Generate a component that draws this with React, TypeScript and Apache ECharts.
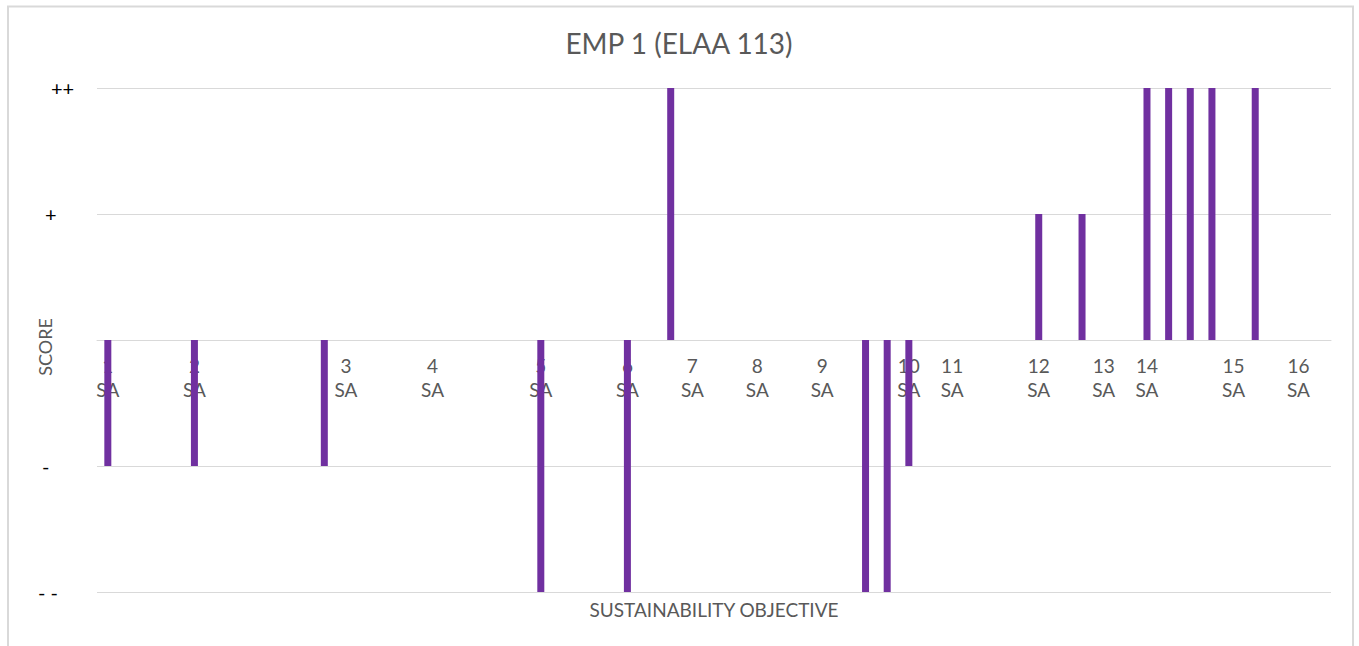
import React, { useEffect, useRef } from "react";
import * as echarts from "echarts";

// 57 category slots along the x axis; blank ones carry no label
const categories: string[] = [
  "1\nSA", "", "", "", "2\nSA", "", "", "", "", "",
  "", "3\nSA", "", "", "", "4\nSA", "", "", "", "",
  "5\nSA", "", "", "", "6\nSA", "", "", "7\nSA", "", "",
  "8\nSA", "", "", "9\nSA", "", "", "", "10\nSA", "", "11\nSA",
  "", "", "", "12\nSA", "", "", "13\nSA", "", "14\nSA", "",
  "", "", "15\nSA", "", "", "16\nSA", "",
];

// score per slot (-2 = "- -", -1 = "-", 1 = "+", 2 = "++")
const scores: (number | null)[] = [
  -1, null, null, null, -1, null, null, null, null, null,
  -1, null, null, null, null, null, null, null, null, null,
  -2, null, null, null, -2, null, 2, null, null, null,
  null, null, null, null, null, -2, -2, -1, null, null,
  null, null, null, 1, null, 1, null, null, 2, 2,
  2, 2, null, 2, null, null, null,
];

const yTickValues: number[] = [-2, -1, 0, 1, 2];
const yTickLabels: string[] = ["- -", "-", "", "+", "++"];
const yTickStyles: string[] = ["mm", "m", "z", "p", "pp"];

const TITLE = "EMP 1 (ELAA 113)";
const Y_NAME = "SCORE";
const X_NAME = "SUSTAINABILITY OBJECTIVE";

export default function App() {
  const ref = useRef<HTMLDivElement>(null);
  useEffect(() => {
    if (!ref.current) return;
    const chart = echarts.init(ref.current, undefined, { renderer: "svg" });
    const font = "Lato, 'Open Sans', sans-serif";
    const yl = { color: "#000", fontSize: 20, fontFamily: font };
    const gridTop = 88;
    const gridBottom = 54;
    const plotH = 646 - gridTop - gridBottom;
    chart.setOption({
      animation: false,
      backgroundColor: "#ffffff",
      textStyle: { fontFamily: font },
      title: {
        text: TITLE,
        left: 674,
        textAlign: "center",
        top: 24,
        textStyle: { fontFamily: font, fontSize: 28, fontWeight: "normal", color: "#595959" },
      },
      grid: {
        left: 97,
        right: 28,
        top: gridTop,
        bottom: gridBottom,
        containLabel: false,
        outerBoundsMode: "none",
      },
      xAxis: {
        type: "category",
        position: "bottom",
        offset: -plotH / 2,
        data: categories.map((_, i) => String(i)),
        boundaryGap: true,
        axisLine: { show: true, onZero: false, lineStyle: { color: "#d9d9d9", width: 1 } },
        axisTick: { show: false },
        splitLine: { show: false },
        axisLabel: {
          interval: 0,
          margin: 13,
          color: "#595959",
          fontSize: 19,
          lineHeight: 24,
          fontFamily: font,
          formatter: (_v: string, i: number) => categories[i],
        },
      },
      yAxis: {
        type: "value",
        min: -2,
        max: 2,
        interval: 1,
        axisLine: { show: false },
        axisTick: { show: false },
        splitLine: { show: true, lineStyle: { color: "#d9d9d9", width: 1 } },
        axisLabel: {
          align: "left",
          margin: 59,
          color: "#000000",
          fontSize: 20,
          fontFamily: font,
          formatter: (v: number) => {
            const k = yTickValues.indexOf(v);
            if (k < 0 || yTickLabels[k] === "") return "";
            return "{" + yTickStyles[k] + "|" + yTickLabels[k] + "}";
          },
          rich: {
            mm: { ...yl, padding: [0, 0, 0, 0] },
            m: { ...yl, padding: [0, 0, 0, 4] },
            z: { ...yl },
            p: { ...yl, padding: [0, 0, 0, 7] },
            pp: { ...yl, padding: [0, 0, 0, 13] },
          },
        },
      },
      graphic: [
        {
          type: "rect",
          silent: true,
          z: 100,
          shape: { x: 8, y: 6.5, width: 1345, height: 700 },
          style: { fill: "none", stroke: "#d9d9d9", lineWidth: 2 },
        },
        {
          type: "text",
          x: 45,
          y: 347,
          rotation: Math.PI / 2,
          style: {
            text: Y_NAME,
            align: "center",
            verticalAlign: "middle",
            fill: "#595959",
            fontSize: 18,
            fontFamily: font,
          },
        },
        {
          type: "text",
          x: 714,
          y: 609,
          style: {
            text: X_NAME,
            align: "center",
            verticalAlign: "middle",
            fill: "#595959",
            fontSize: 19,
            fontFamily: font,
          },
        },
      ],
      series: [
        {
          type: "bar",
          data: scores,
          barWidth: 7,
          itemStyle: { color: "#7030A0" },
        },
      ],
    });
    return () => chart.dispose();
  }, []);
  return (
    <div
      ref={ref}
      style={{ position: "fixed", left: 0, top: 0, width: 1359, height: 646 }}
    />
  );
}
